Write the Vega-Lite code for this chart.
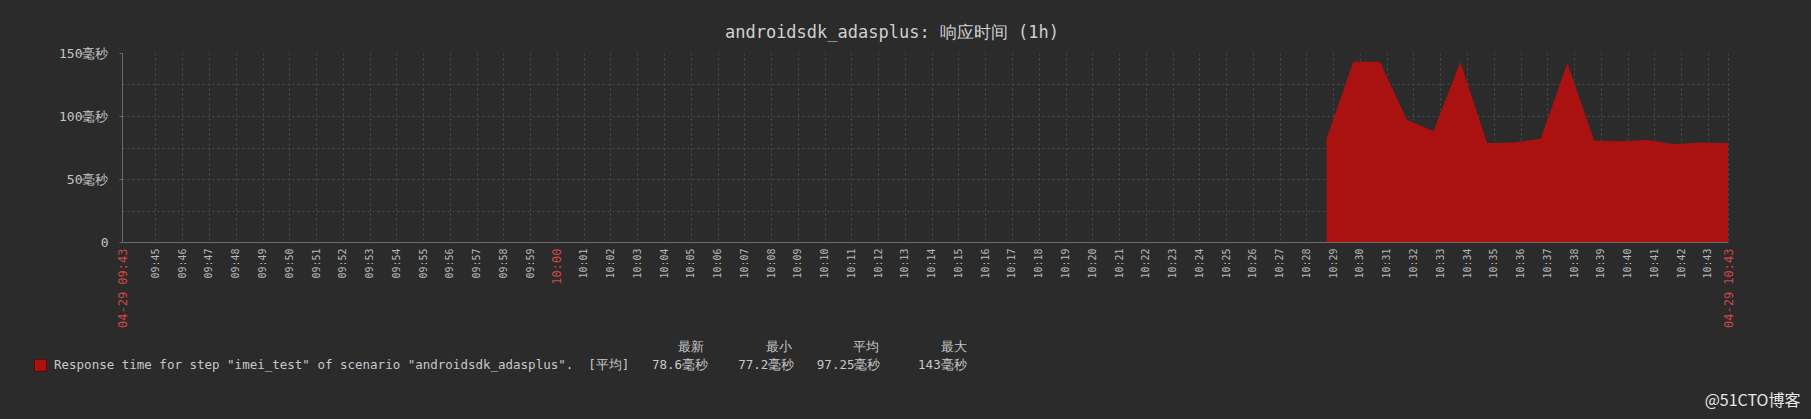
{
  "$schema": "https://vega.github.io/schema/vega-lite/v6.json",
  "autosize": {"type": "none"},
  "padding": {"left": 122, "top": 53, "right": 83, "bottom": 177},
  "width": 1606,
  "height": 189,
  "background": "#2b2b2b",
  "title": {
    "text": "androidsdk_adasplus: 响应时间 (1h)",
    "font": "DejaVu Sans Mono",
    "fontSize": 17,
    "fontWeight": "normal",
    "color": "#cfcfcf",
    "anchor": "middle",
    "dx": -33,
    "offset": 5
  },
  "data": {
    "values": [
      {"time": "2019-04-29T10:28:45Z", "ms": 82, "series": "Response time for step \"imei_test\" of scenario \"androidsdk_adasplus\"."},
      {"time": "2019-04-29T10:29:45Z", "ms": 143, "series": "Response time for step \"imei_test\" of scenario \"androidsdk_adasplus\"."},
      {"time": "2019-04-29T10:30:45Z", "ms": 143, "series": "Response time for step \"imei_test\" of scenario \"androidsdk_adasplus\"."},
      {"time": "2019-04-29T10:31:45Z", "ms": 97, "series": "Response time for step \"imei_test\" of scenario \"androidsdk_adasplus\"."},
      {"time": "2019-04-29T10:32:45Z", "ms": 88, "series": "Response time for step \"imei_test\" of scenario \"androidsdk_adasplus\"."},
      {"time": "2019-04-29T10:33:45Z", "ms": 143, "series": "Response time for step \"imei_test\" of scenario \"androidsdk_adasplus\"."},
      {"time": "2019-04-29T10:34:45Z", "ms": 78.5, "series": "Response time for step \"imei_test\" of scenario \"androidsdk_adasplus\"."},
      {"time": "2019-04-29T10:35:45Z", "ms": 79, "series": "Response time for step \"imei_test\" of scenario \"androidsdk_adasplus\"."},
      {"time": "2019-04-29T10:36:45Z", "ms": 82, "series": "Response time for step \"imei_test\" of scenario \"androidsdk_adasplus\"."},
      {"time": "2019-04-29T10:37:45Z", "ms": 142, "series": "Response time for step \"imei_test\" of scenario \"androidsdk_adasplus\"."},
      {"time": "2019-04-29T10:38:45Z", "ms": 80.5, "series": "Response time for step \"imei_test\" of scenario \"androidsdk_adasplus\"."},
      {"time": "2019-04-29T10:39:45Z", "ms": 80, "series": "Response time for step \"imei_test\" of scenario \"androidsdk_adasplus\"."},
      {"time": "2019-04-29T10:40:45Z", "ms": 81, "series": "Response time for step \"imei_test\" of scenario \"androidsdk_adasplus\"."},
      {"time": "2019-04-29T10:41:45Z", "ms": 77.5, "series": "Response time for step \"imei_test\" of scenario \"androidsdk_adasplus\"."},
      {"time": "2019-04-29T10:42:45Z", "ms": 79, "series": "Response time for step \"imei_test\" of scenario \"androidsdk_adasplus\"."},
      {"time": "2019-04-29T10:43:45Z", "ms": 78.6, "series": "Response time for step \"imei_test\" of scenario \"androidsdk_adasplus\"."}
    ]
  },
  "mark": {"type": "area", "interpolate": "linear", "fillOpacity": 1},
  "encoding": {
    "x": {
      "field": "time",
      "type": "temporal",
      "scale": {"type": "utc", "domain": [1556531025000, 1556534625000], "nice": false},
      "axis": {
        "title": null,
        "values": [
          1556531025000,
          1556531100000, 1556531160000, 1556531220000, 1556531280000, 1556531340000,
          1556531400000, 1556531460000, 1556531520000, 1556531580000, 1556531640000,
          1556531700000, 1556531760000, 1556531820000, 1556531880000, 1556531940000,
          1556532000000, 1556532060000, 1556532120000, 1556532180000, 1556532240000,
          1556532300000, 1556532360000, 1556532420000, 1556532480000, 1556532540000,
          1556532600000, 1556532660000, 1556532720000, 1556532780000, 1556532840000,
          1556532900000, 1556532960000, 1556533020000, 1556533080000, 1556533140000,
          1556533200000, 1556533260000, 1556533320000, 1556533380000, 1556533440000,
          1556533500000, 1556533560000, 1556533620000, 1556533680000, 1556533740000,
          1556533800000, 1556533860000, 1556533920000, 1556533980000, 1556534040000,
          1556534100000, 1556534160000, 1556534220000, 1556534280000, 1556534340000,
          1556534400000, 1556534460000, 1556534520000, 1556534580000,
          1556534625000
        ],
        "labelExpr": "(time(datum.value) == 1556531025000 || time(datum.value) == 1556534625000) ? '04-29 ' + utcFormat(datum.value, '%H:%M') : utcFormat(datum.value, '%H:%M')",
        "labelAngle": 270,
        "labelFont": "DejaVu Sans Mono",
        "labelFontSize": {"condition": {"test": "time(datum.value) == 1556531025000 || time(datum.value) == 1556534625000 || time(datum.value) == 1556532000000", "value": 12}, "value": 10},
        "labelColor": {"condition": {"test": "time(datum.value) == 1556531025000 || time(datum.value) == 1556534625000 || time(datum.value) == 1556532000000", "value": "#d04646"}, "value": "#b8b8b8"},
        "labelPadding": 6,
        "labelOverlap": false,
        "labelFlush": false,
        "ticks": false,
        "grid": true,
        "gridColor": "#4c4c4c",
        "gridDash": [2, 3],
        "domainColor": "#6a6a6a"
      }
    },
    "y": {
      "field": "ms",
      "type": "quantitative",
      "scale": {"domain": [0, 150], "nice": false},
      "axis": {
        "values": [0, 25, 50, 75, 100, 125, 150],
        "labelExpr": "datum.value == 0 ? '0' : (datum.value % 50 == 0 ? datum.value + '毫秒' : '')",
        "labelFont": "DejaVu Sans Mono",
        "labelFontSize": 13,
        "labelColor": "#c4c4c4",
        "labelPadding": 11,
        "tickSize": 3,
        "tickColor": "#6a6a6a",
        "tickOpacity": {"condition": {"test": "datum.value % 50 != 0", "value": 0}, "value": 1},
        "grid": true,
        "gridColor": "#4c4c4c",
        "gridDash": [2, 3],
        "gridOpacity": {"condition": {"test": "datum.value == 150 || datum.value == 0", "value": 0}, "value": 1},
        "domainColor": "#6a6a6a",
        "title": "@51CTO博客",
        "titleAngle": 0,
        "titleX": 1678,
        "titleY": 347,
        "titleAlign": "right",
        "titleBaseline": "middle",
        "titleFont": "Noto Sans CJK SC",
        "titleFontSize": 16,
        "titleFontWeight": "normal",
        "titleColor": "#e6e6e6"
      }
    },
    "color": {
      "field": "series",
      "type": "nominal",
      "scale": {"range": ["#aa1111"]},
      "legend": {
        "orient": "none",
        "legendX": -88,
        "legendY": 288,
        "padding": 0,
        "title": "最新\u00a0\u00a0\u00a0\u00a0\u00a0\u00a0\u00a0\u00a0最小\u00a0\u00a0\u00a0\u00a0\u00a0\u00a0\u00a0\u00a0平均\u00a0\u00a0\u00a0\u00a0\u00a0\u00a0\u00a0\u00a0最大\u00a0\u00a0\u00a0",
        "titleAnchor": "end",
        "titleLimit": 2000,
        "titleFont": "DejaVu Sans Mono",
        "titleFontSize": 12.8,
        "titleFontWeight": "normal",
        "titleColor": "#c8c8c8",
        "titlePadding": 5,
        "symbolType": "square",
        "symbolSize": 144,
        "symbolStrokeColor": "#5a0808",
        "symbolStrokeWidth": 1,
        "symbolOpacity": 1,
        "labelFont": "DejaVu Sans Mono",
        "labelFontSize": 12.5,
        "labelColor": "#c8c8c8",
        "labelLimit": 2000,
        "labelOffset": 7,
        "labelExpr": "datum.label + '\u00a0\u00a0[平均]\u00a0\u00a0\u00a078.6毫秒\u00a0\u00a0\u00a0\u00a077.2毫秒\u00a0\u00a0\u00a097.25毫秒\u00a0\u00a0\u00a0\u00a0\u00a0143毫秒'"
      }
    }
  },
  "config": {
    "view": {"stroke": null}
  }
}
